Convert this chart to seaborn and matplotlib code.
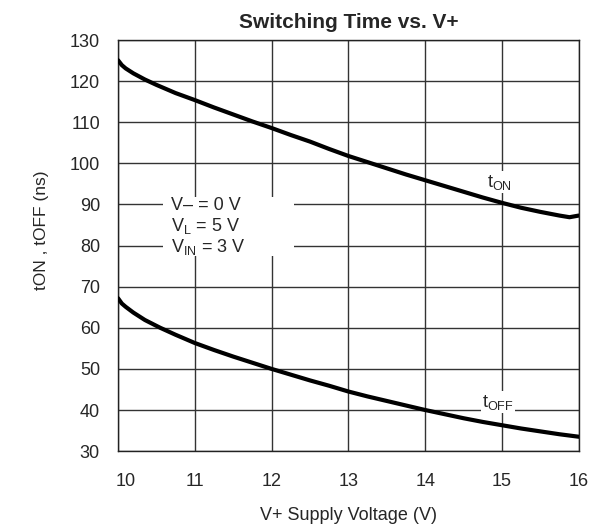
import pandas as pd
import matplotlib.pyplot as plt
import matplotlib.transforms as mtransforms
from matplotlib.patches import Rectangle
import seaborn as sns

# values
v_on = [10.0, 10.05, 10.1, 10.2, 10.35, 10.5, 10.75, 11.0, 11.25, 11.5, 11.75, 12.0, 12.25, 12.5,
        12.75, 13.0, 13.25, 13.5, 13.75, 14.0, 14.25, 14.5, 14.75, 15.0, 15.25, 15.5, 15.75, 15.88, 16.0]
t_on = [125.1, 123.9, 123.1, 121.9, 120.4, 119.1, 117.1, 115.4, 113.6, 111.9, 110.2, 108.6, 106.9, 105.3,
        103.5, 101.8, 100.3, 98.8, 97.3, 95.9, 94.5, 93.1, 91.7, 90.4, 89.2, 88.2, 87.3, 86.9, 87.3]

v_off = [10.0, 10.05, 10.1, 10.2, 10.35, 10.55, 10.75, 11.0, 11.25, 11.5, 11.75, 12.0, 12.25, 12.5,
         12.75, 13.0, 13.25, 13.5, 13.75, 14.0, 14.25, 14.5, 14.75, 15.0, 15.25, 15.5, 15.75, 16.0]
t_off = [67.2, 65.9, 65.1, 63.7, 61.9, 60.0, 58.3, 56.3, 54.6, 53.0, 51.5, 50.0, 48.6, 47.2,
         45.9, 44.5, 43.3, 42.2, 41.1, 40.0, 39.0, 38.0, 37.1, 36.3, 35.5, 34.8, 34.1, 33.5]

df = pd.concat([
    pd.DataFrame({'V': v_on, 't': t_on, 'series': 'on'}),
    pd.DataFrame({'V': v_off, 't': t_off, 'series': 'off'}),
])

sns.set_style('white')
plt.rcParams['font.family'] = ['Liberation Sans', 'DejaVu Sans']

fig = plt.figure(figsize=(5.96, 5.27), dpi=100)
ax = fig.add_axes([0.198, 0.144, 0.773, 0.780])

sns.lineplot(data=df, x='V', y='t', units='series', estimator=None, sort=False,
             color='black', linewidth=3.0, ax=ax, zorder=3)

ax.set_xlim(10, 16)
ax.set_ylim(30, 130)
ax.set_xticks(range(10, 17))
ax.set_yticks(range(30, 131, 10))
ax.grid(True, color='#333333', linewidth=1.0, zorder=0)
ax.set_axisbelow(True)
ax.tick_params(axis='x', length=0, labelsize=13, pad=16)
ax.tick_params(axis='y', length=0, labelsize=13, pad=13)
for s in ax.spines.values():
    s.set_color('#222222')
    s.set_linewidth(1.0)

# first x tick label sits a bit right of its gridline in the reference
lab0 = ax.xaxis.get_major_ticks()[0].label1
lab0.set_transform(lab0.get_transform() + mtransforms.ScaledTranslation(0.08, 0, fig.dpi_scale_trans))

ax.set_xlabel('V+ Supply Voltage (V)', fontsize=13, labelpad=12)
ax.set_ylabel('tON , tOFF (ns)', fontsize=12.5)
ax.yaxis.set_label_coords(-0.150, 0.538)
ax.set_title('Switching Time vs. V+', fontsize=15, fontweight='bold', pad=9)

# white panel behind the condition notes
ax.add_patch(Rectangle((10.586, 77.4), 1.70, 14.4, facecolor='white', edgecolor='none', zorder=2))
notes = ['V\u2013 = 0 V', 'V$_\\mathregular{L}$ = 5 V', 'V$_\\mathregular{IN}$ = 3 V']
note_y = [88.6, 83.5, 78.5]
for txt, yy in zip(notes, note_y):
    ax.text(10.686, yy, txt, fontsize=13, ha='left', va='baseline', zorder=4)

ax.text(14.8, 94.3, 't$_\\mathregular{ON}$', fontsize=13, ha='left', va='baseline', zorder=2.5,
        bbox=dict(facecolor='white', edgecolor='none', pad=1))
ax.text(14.74, 40.8, 't$_\\mathregular{OFF}$', fontsize=13, ha='left', va='baseline', zorder=2.5,
        bbox=dict(facecolor='white', edgecolor='none', pad=1))

fig.savefig('out.png', dpi=100)
